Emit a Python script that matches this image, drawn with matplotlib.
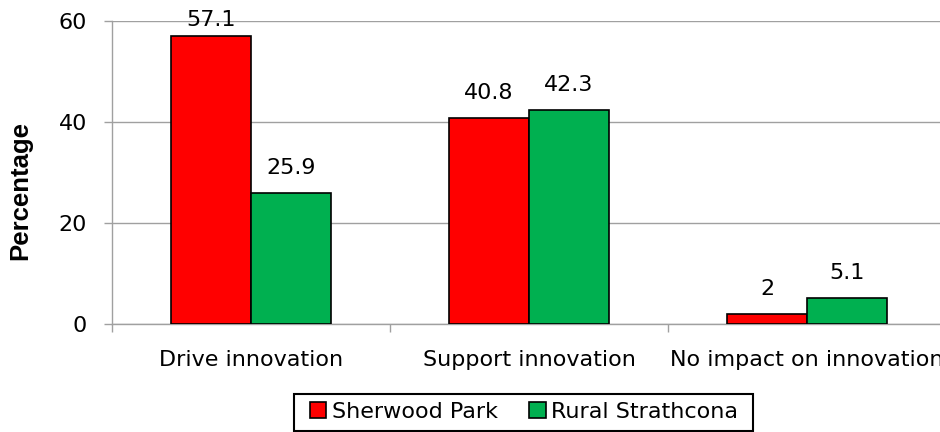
import matplotlib.pyplot as plt
from matplotlib.patches import Rectangle
import numpy as np

categorias = ["Drive innovation", "Support innovation", "No impact on innovation"]
sherwood = [57.1, 40.8, 2]
rural = [25.9, 42.3, 5.1]
series = ["Sherwood Park", "Rural Strathcona"]
yticks = [0, 20, 40, 60]

W, H = 940, 432
fig = plt.figure(figsize=(W / 100, H / 100), dpi=100)
ax = fig.add_axes([112 / W, 0.25, 834 / W, 0.7014])

x = np.arange(len(categorias))
ancho = 0.288
gris = "#a0a0a0"
fs = 16

b1 = ax.bar(x - ancho / 2, sherwood, ancho, color="#ff0000", edgecolor="black",
            linewidth=1.2, label=series[0], zorder=3)
b2 = ax.bar(x + ancho / 2, rural, ancho, color="#00b050", edgecolor="black",
            linewidth=1.2, label=series[1], zorder=3)

# etiquetas sobre las barras, la de arriba no se sale del area
for barras, vals in [(b1, sherwood), (b2, rural)]:
    for b, v in zip(barras, vals):
        y = min(v + 3.75, 59.0)
        ax.text(b.get_x() + b.get_width() / 2, y, f"{v:g}", ha="center",
                va="baseline", fontsize=fs, zorder=4)

ax.set_xlim(-0.5, 2.5)
ax.set_ylim(0, 60)
ax.set_yticks(yticks)
ax.set_xticks(x)
ax.set_xticklabels(categorias, fontsize=fs)
ax.set_xticks([-0.5, 0.5, 1.5, 2.5], minor=True)
ax.tick_params(axis="x", which="major", length=0, pad=19)
ax.tick_params(axis="x", which="minor", length=6, color=gris, width=1)
ax.tick_params(axis="y", length=6, color=gris, width=1, labelsize=fs, pad=12)
ax.yaxis.grid(True, color=gris, linewidth=1, zorder=0)
for s in ["top", "right"]:
    ax.spines[s].set_visible(False)
for s in ["left", "bottom"]:
    ax.spines[s].set_color(gris)
    ax.spines[s].set_linewidth(1)
ax.set_ylabel("Percentage", fontsize=18.5, fontweight="bold",
              family="Liberation Sans")
ax.yaxis.set_label_coords((32 - 112) / 834, (324 - 191) / 303)

# leyenda sin marco y caja dibujada aparte
fig.legend(loc="center", bbox_to_anchor=(524 / W, 1 - 412 / H), ncol=2,
           fontsize=fs, frameon=False, handlelength=0.75, handleheight=0.75,
           handletextpad=0.25, columnspacing=1.4)
fig.patches.append(Rectangle((294 / W, 1 - 431 / H), (753 - 294) / W, 37 / H,
                             transform=fig.transFigure, fill=False,
                             edgecolor="black", linewidth=1.5))

fig.savefig("out.png", dpi=100)
